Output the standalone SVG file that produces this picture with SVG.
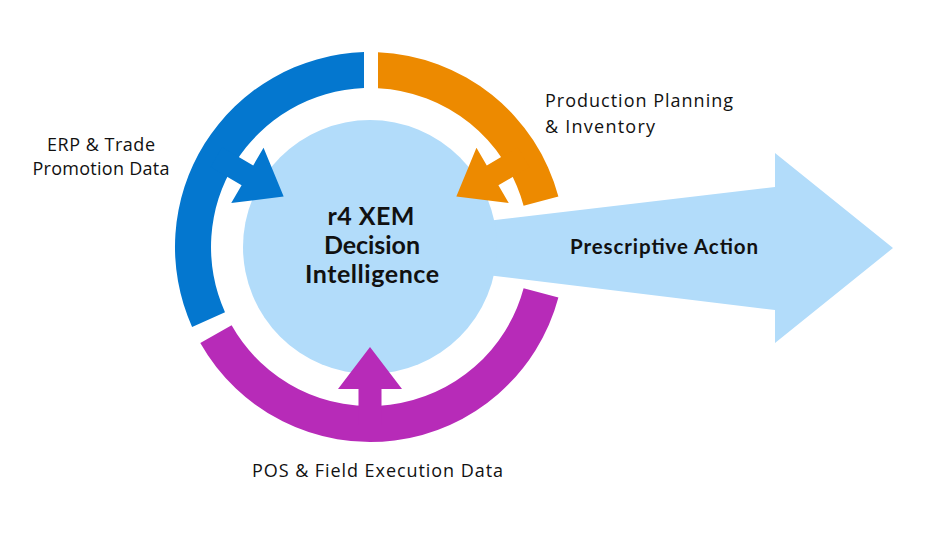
<svg xmlns="http://www.w3.org/2000/svg" width="926" height="540" viewBox="0 0 926 540">
  <style>
    .lbl { font-family: "Open Sans", Lato, "Liberation Sans", sans-serif; font-size: 18px; fill: #111; }
    .bold { font-family: Lato, "Liberation Sans", sans-serif; font-weight: bold; fill: #111; }
    .lb { fill: #b2dcfa; }
    .blue { fill: #0477cf; }
    .orange { fill: #ed8a00; }
    .purple { fill: #b72bb8; }
  </style>
  <defs>
    <polygon id="inarrow" points="370,347 402,389 381.5,389 381.5,425 358.5,425 358.5,389 338,389"/>
  </defs>
  <rect width="926" height="540" fill="#fff"/>
  <g id="connectors">
    <polygon id="action-arrow" class="lb" points="470,223 775,187 775,153 893,248 775,343 775,310 470,273"/>
  </g>
  <g id="core">
    <circle class="lb" cx="370" cy="247" r="127"/>
    <text class="bold" font-size="25" text-anchor="middle" x="371" y="225" textLength="87" lengthAdjust="spacing">r4 XEM</text>
    <text class="bold" font-size="25" text-anchor="middle" x="372" y="254" textLength="96" lengthAdjust="spacing">Decision</text>
    <text class="bold" font-size="25" text-anchor="middle" x="372" y="283" textLength="134" lengthAdjust="spacing">Intelligence</text>
  </g>
  <g id="erp">
    <path class="blue" d="M 364 52.1 A 195 195 0 0 0 192.1 326.9 L 225 312.2 A 159 159 0 0 1 364 88.1 Z"/>
    <use class="blue" href="#inarrow" transform="rotate(120.3 370 247)"/>
    <text class="lbl" text-anchor="middle" x="101" y="151" textLength="108" lengthAdjust="spacing">ERP &amp; Trade</text>
    <text class="lbl" text-anchor="middle" x="101" y="175" textLength="137" lengthAdjust="spacing">Promotion Data</text>
  </g>
  <g id="production">
    <path class="orange" d="M 378 52.2 A 195 195 0 0 1 558.4 196.5 L 523.6 205.8 A 159 159 0 0 0 378 88.3 Z"/>
    <use class="orange" href="#inarrow" transform="rotate(-120.3 370 247)"/>
    <text class="lbl" x="545" y="107" textLength="188" lengthAdjust="spacing">Production Planning</text>
    <text class="lbl" x="545" y="133" textLength="110" lengthAdjust="spacing">&amp; Inventory</text>
  </g>
  <g id="pos">
    <path class="purple" d="M 558.4 297.5 A 195 195 0 0 1 200.3 343 L 231.6 325.3 A 159 159 0 0 0 523.6 288.2 Z"/>
    <use class="purple" href="#inarrow"/>
    <text class="lbl" x="252" y="477" textLength="251" lengthAdjust="spacing">POS &amp; Field Execution Data</text>
  </g>
  <g id="action">
    <text class="bold" font-size="20.5" text-anchor="middle" x="664" y="254" textLength="188" lengthAdjust="spacing">Prescriptive Action</text>
  </g>
</svg>
